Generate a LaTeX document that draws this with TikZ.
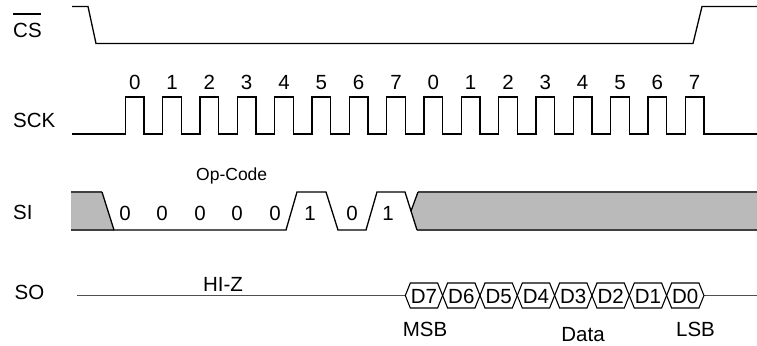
\documentclass[tikz,border=0pt]{standalone}
\usepackage{fontspec}
\setmainfont{Liberation Sans}
\definecolor{busgrey}{RGB}{186,186,186}
\definecolor{edgegrey}{RGB}{64,64,64}
\definecolor{solinegrey}{RGB}{80,80,80}
\tikzset{
  wave/.style={draw=black, line width=1.3bp, line join=miter},
  busfill/.style={fill=busgrey},
  busedge/.style={draw=edgegrey, line width=1.6bp},
  soline/.style={draw=solinegrey, line width=1.8bp},
  hexcell/.style={draw=black, line width=1.1bp},
  lbl/.style={inner sep=0pt, font=\fontsize{20.5bp}{24bp}\selectfont},
  smalllbl/.style={inner sep=0pt, font=\fontsize{17.5bp}{21bp}\selectfont}
}
\begin{document}
\begin{tikzpicture}[x=1bp,y=-1bp]
\useasboundingbox (0,0) rectangle (757,345);

% ---------- signal names ----------
\node[lbl, anchor=base west] (cslbl) at (13,37.3) {CS};
\draw[line width=1.3bp] (13.3,14) -- (40.5,14);
\node[lbl, anchor=base west] (scklbl) at (13,127.5) {SCK};
\node[lbl, anchor=base west] (silbl) at (13,219) {SI};
\node[lbl, anchor=base west] (solbl) at (14.5,299.3) {SO};

% ---------- CS ----------
\draw[wave] (72,6.5) -- (88,6.5) -- (96,43.5) -- (693,43.5) -- (702,6.5) -- (757,6.5);

% ---------- SCK ----------
\draw[wave] (72,134) \foreach \k in {0,...,15}{
   -- ({125.3+37.33*\k},134) -- ++(0,-37) -- ++(18.67,0) -- ++(0,37)} -- (757,134);
\foreach \k in {0,...,15}{
  \pgfmathtruncatemacro{\bitno}{mod(\k,8)}
  \node[lbl, anchor=base] (clk\k) at ({134.7+37.33*\k},89.3) {\bitno};
}

% ---------- SI ----------
\fill[busfill] (71,192) -- (102,192) -- (114,230) -- (71,230) -- cycle;
\draw[busedge] (71,192) -- (102,192);
\draw[busedge] (71,230) -- (114,230);
\fill[busfill] (418,192) -- (411,211) -- (417,230) -- (757,230) -- (757,192) -- cycle;
\draw[busedge] (418,192) -- (757,192);
\draw[busedge] (417,230) -- (757,230);
\draw[wave] (411,211) -- (418,192);
\draw[wave] (102,192) -- (114,230) -- (286,230) -- (297,192) -- (326,192)
   -- (338,230) -- (366,230) -- (377,192) -- (405,192) -- (417,230);
\node[smalllbl, anchor=base] (opcode) at (231.7,180.7) {Op-Code};
\foreach \xx/\bb [count=\i] in {125/0,162/0,200/0,237/0,275/0,310/1,352/0,388/1}{
  \node[lbl, anchor=base] (si\i) at (\xx,220.5) {\bb};
}

% ---------- SO ----------
\coordinate (soL) at (77,295.5);
\coordinate (soR) at (757,295.5);
\coordinate (hexL) at (405.3,295.5);
\coordinate (hexR) at (704,295.5);
\draw[soline] (soL) -- (hexL);
\draw[soline] (hexR) -- (soR);
\node[lbl, anchor=base] (hiz) at (223,291.7) {HI-Z};
\foreach \d [count=\i from 0] in {7,6,5,4,3,2,1,0}{
  \pgfmathsetmacro{\xa}{405.3+37.33*\i}
  \pgfmathsetmacro{\xb}{\xa+37.33}
  \draw[hexcell] (\xa,295.5) -- ({\xa+5},283) -- ({\xb-5},283) -- (\xb,295.5)
     -- ({\xb-5},308) -- ({\xa+5},308) -- cycle;
  \node[lbl, anchor=base] (d\d) at ({(\xa+\xb)/2},303.3) {D\d};
}
\node[lbl, anchor=base] (msb) at (425,336) {MSB};
\node[lbl, anchor=base] (data) at (583,341.7) {Data};
\node[lbl, anchor=base] (lsb) at (695.5,336) {LSB};
\end{tikzpicture}
\end{document}
